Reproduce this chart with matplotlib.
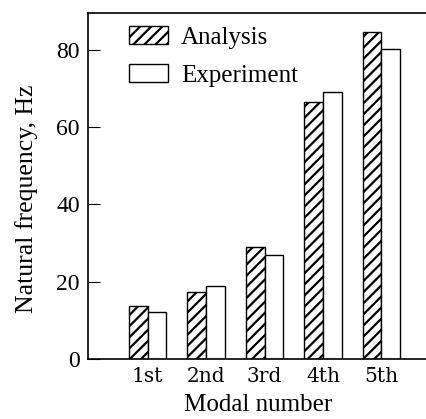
import numpy as np
import matplotlib
matplotlib.use('Agg')
import matplotlib.pyplot as plt

modes = ['1st', '2nd', '3rd', '4th', '5th']
analysis = [13.7, 17.4, 29.0, 66.5, 84.6]
experiment = [12.2, 19.0, 26.8, 69.0, 80.3]

plt.rcParams['font.family'] = ['Liberation Serif', 'DejaVu Serif']
plt.rcParams['hatch.linewidth'] = 1.6

fig = plt.figure(figsize=(4.26, 4.19), dpi=100)
ax = fig.add_axes([0.2066, 0.1432, 0.80, 0.8258])

x = np.arange(1, len(modes) + 1)
w = 0.32
ax.bar(x - w / 2, analysis, w, color='white', edgecolor='black',
       hatch='///', linewidth=1.0, label='Analysis')
ax.bar(x + w / 2, experiment, w, color='white', edgecolor='black',
       linewidth=1.0, label='Experiment')

ax.set_xlim(-0.02, 5.81)
ax.set_ylim(0, 89.5)
ax.set_xticks(x)
ax.set_xticklabels(modes, family='DejaVu Serif')
ax.set_yticks([0, 20, 40, 60, 80])
ax.tick_params(axis='x', length=0, labelsize=14.5, pad=6)
ax.tick_params(axis='y', direction='in', length=8.5, width=0.8,
               labelsize=17, pad=6)
ax.spines['right'].set_visible(False)
for s in ['left', 'bottom', 'top']:
    ax.spines[s].set_linewidth(1.2)

ax.set_xlabel('Modal number', fontsize=18)
ax.set_ylabel('Natural frequency, Hz', fontsize=18.5)
ax.xaxis.set_label_coords(0.5, -0.1)
ax.yaxis.set_label_coords(-0.148, 0.462)

ax.legend(loc='upper left', bbox_to_anchor=(0.121, 0.962), frameon=False,
          fontsize=18, handlelength=1.56, handleheight=0.75, handletextpad=0.52,
          labelspacing=0.6, borderpad=0, borderaxespad=0)

fig.savefig('out.png', dpi=100)
